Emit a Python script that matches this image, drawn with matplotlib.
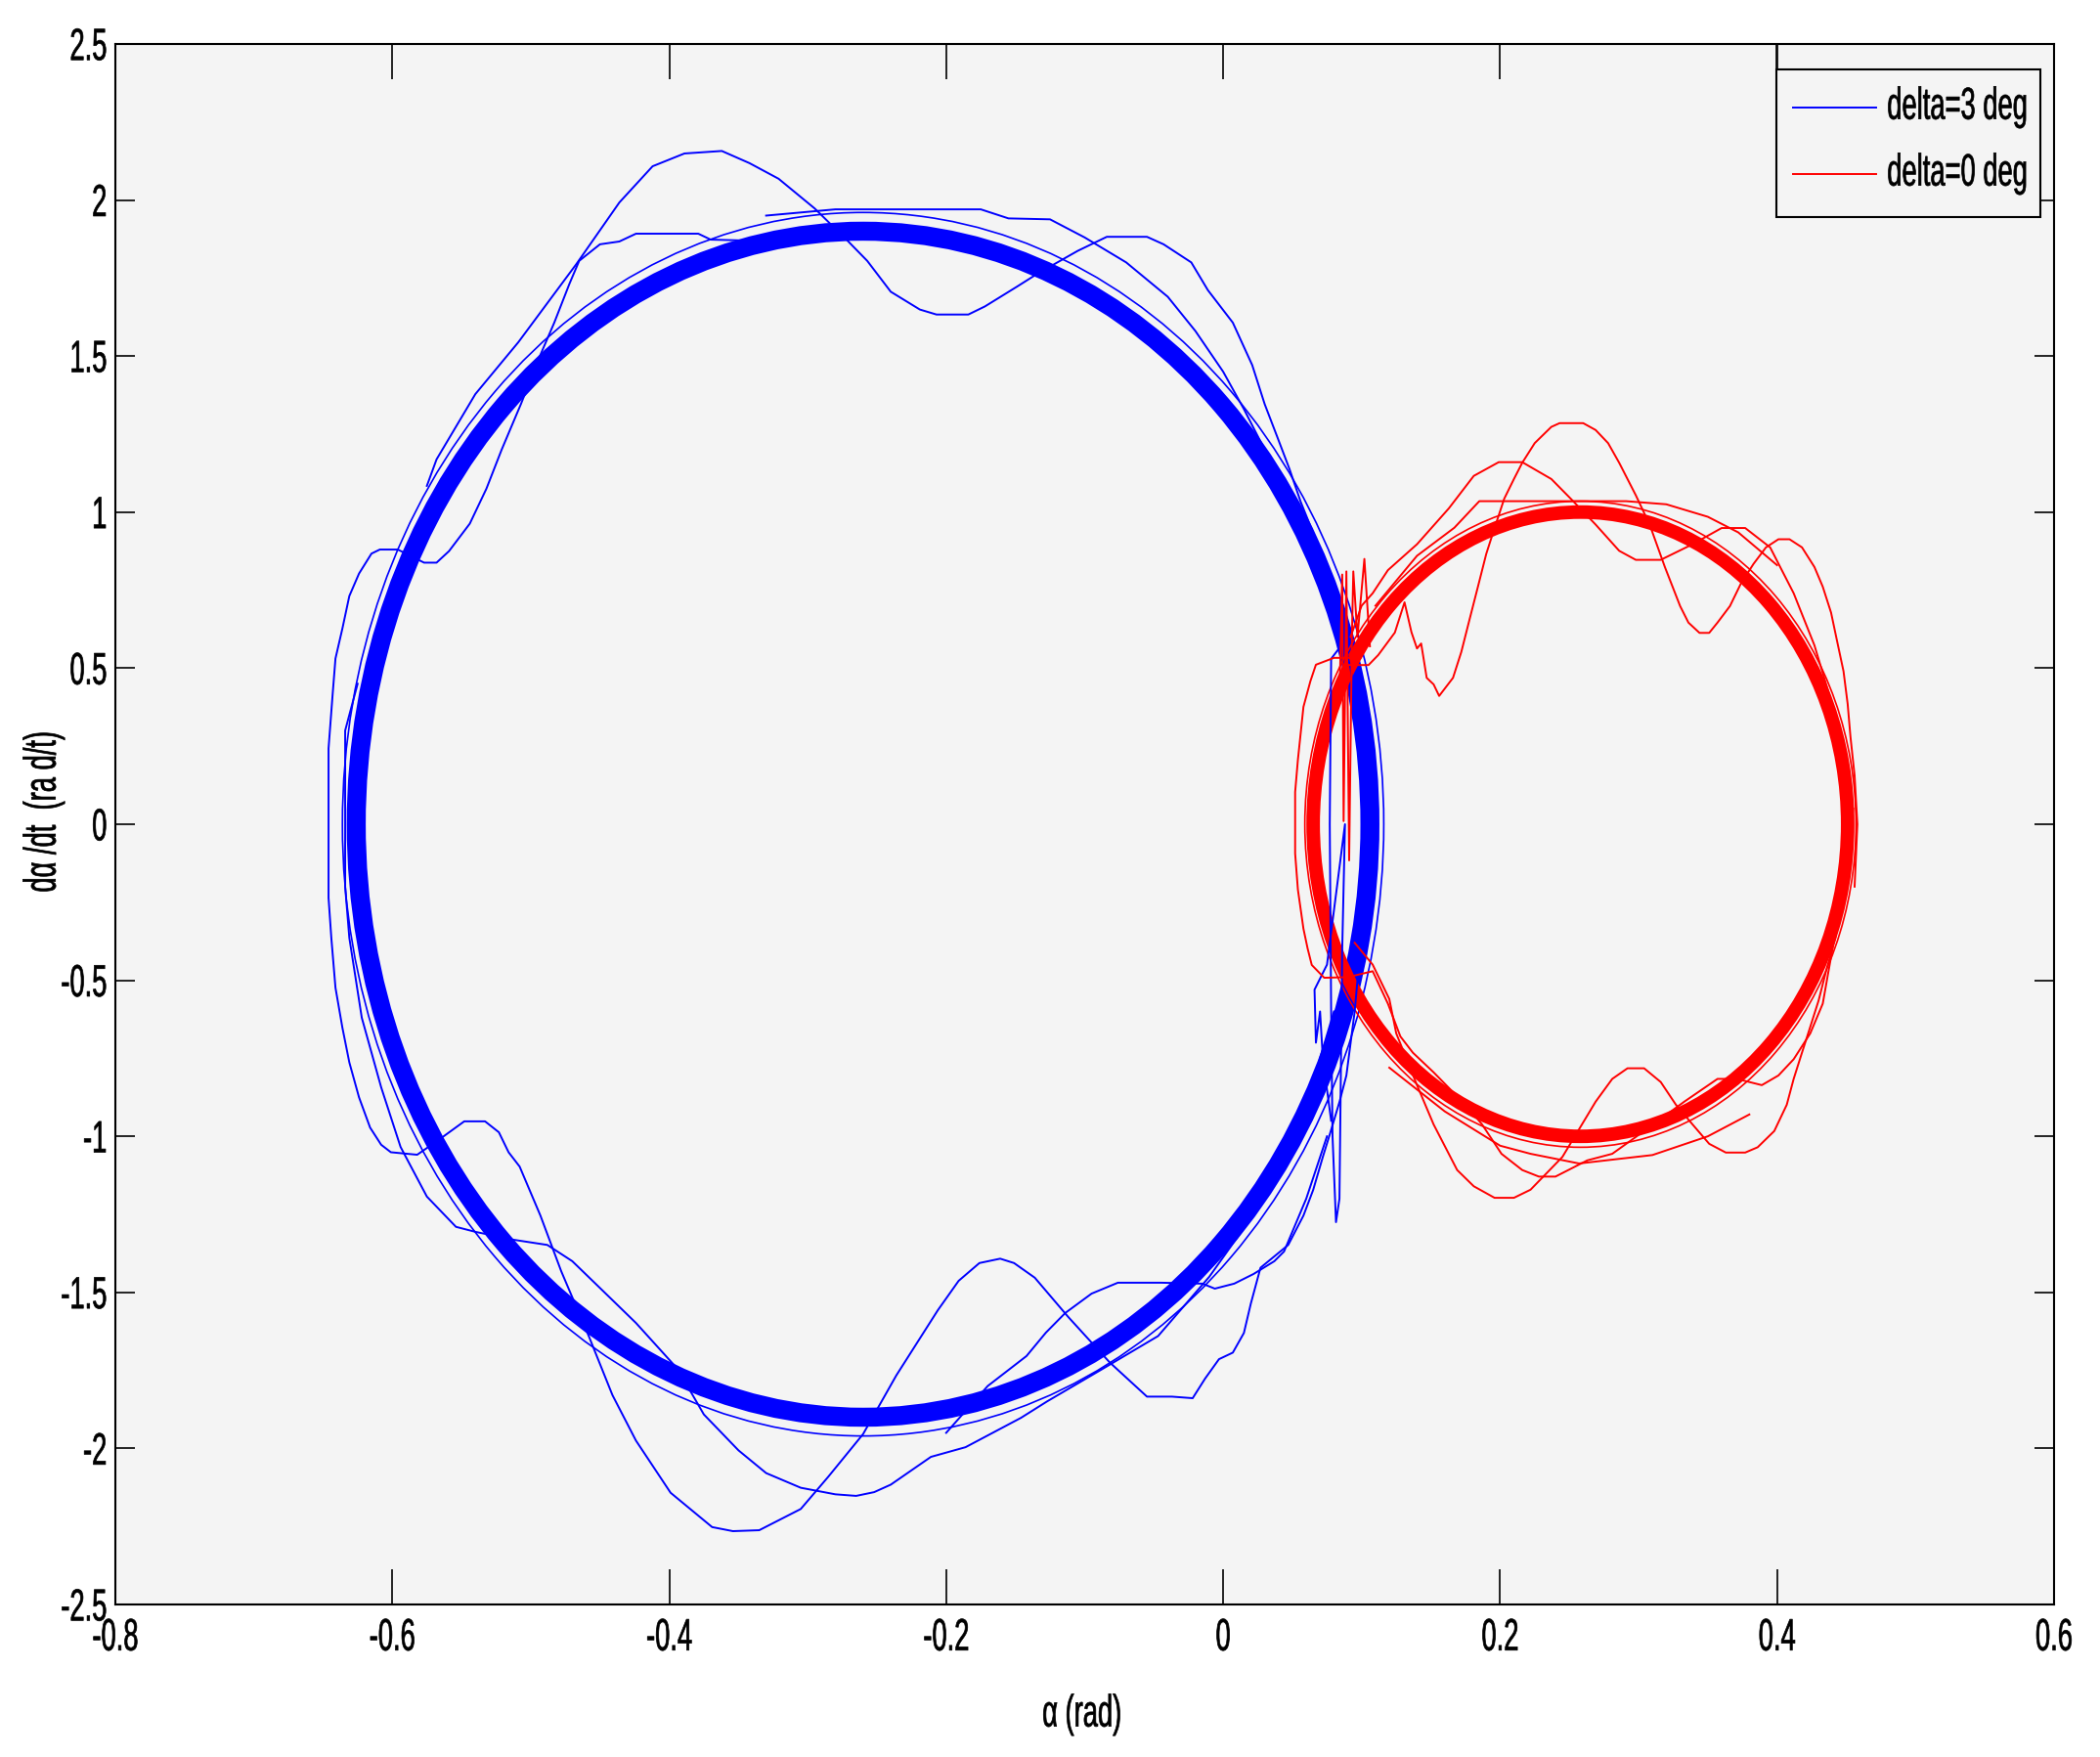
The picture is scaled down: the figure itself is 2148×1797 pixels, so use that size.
import numpy as np
import matplotlib
matplotlib.use('Agg')
import matplotlib.pyplot as plt
from matplotlib.patches import Ellipse, Rectangle
from matplotlib.patheffects import AbstractPathEffect
from matplotlib.transforms import Affine2D

plt.rcParams['font.family'] = ['Liberation Sans', 'DejaVu Sans']
plt.rcParams['axes.unicode_minus'] = False

# ---------- data (alpha [rad], dalpha/dt [rad/t]) ----------
# settled limit cycles (thick bands of many overlapping turns): centre, full width, full height
blue_cycle_center = (-0.260, 0.0)
blue_cycle_size = (0.732, 3.80)
blue_ring_size = (0.752, 3.92)
red_cycle_center = (0.258, 0.0)
red_cycle_size = (0.386, 2.00)
red_ring_size = (0.398, 2.07)

# transient excursions, delta = 3 deg
blue_top_arc = [
    [-0.575, 1.084], [-0.568, 1.169], [-0.540, 1.378], [-0.509, 1.544], [-0.467, 1.795],
    [-0.436, 1.992], [-0.412, 2.108], [-0.389, 2.149], [-0.362, 2.157], [-0.342, 2.118],
    [-0.321, 2.068], [-0.295, 1.973], [-0.272, 1.873], [-0.257, 1.805], [-0.240, 1.706],
    [-0.219, 1.649], [-0.207, 1.633], [-0.184, 1.633], [-0.172, 1.659], [-0.149, 1.722],
    [-0.134, 1.764], [-0.105, 1.837], [-0.084, 1.882], [-0.055, 1.882], [-0.043, 1.858],
    [-0.023, 1.800], [-0.011, 1.711], [0.007, 1.607], [0.021, 1.471], [0.030, 1.346],
    [0.039, 1.242], [0.048, 1.137], [0.056, 1.033], [0.068, 0.900], [0.080, 0.720],
    [0.092, 0.500], [0.100, 0.250], [0.104, 0.000],
]
blue_outer = [
    [-0.318, 1.867], [-0.370, 1.873], [-0.379, 1.892], [-0.424, 1.892], [-0.436, 1.867],
    [-0.450, 1.858], [-0.465, 1.805], [-0.472, 1.732], [-0.483, 1.607], [-0.493, 1.504],
    [-0.507, 1.347], [-0.521, 1.200], [-0.532, 1.075], [-0.544, 0.963], [-0.559, 0.875],
    [-0.568, 0.838], [-0.577, 0.838], [-0.596, 0.880], [-0.609, 0.880], [-0.615, 0.867],
    [-0.624, 0.803], [-0.631, 0.731], [-0.636, 0.627], [-0.641, 0.531], [-0.643, 0.419],
    [-0.646, 0.243], [-0.646, -0.236], [-0.644, -0.364], [-0.641, -0.524], [-0.636, -0.652],
    [-0.631, -0.763], [-0.624, -0.875], [-0.616, -0.972], [-0.608, -1.027], [-0.601, -1.051],
    [-0.582, -1.059], [-0.566, -1.010], [-0.548, -0.952], [-0.533, -0.952], [-0.523, -0.987],
    [-0.516, -1.051], [-0.508, -1.097], [-0.493, -1.254], [-0.478, -1.432], [-0.458, -1.641],
    [-0.441, -1.829], [-0.424, -1.975], [-0.399, -2.142], [-0.369, -2.252], [-0.354, -2.265],
    [-0.335, -2.262], [-0.305, -2.194], [-0.285, -2.090], [-0.260, -1.954], [-0.236, -1.766],
    [-0.206, -1.557], [-0.191, -1.463], [-0.176, -1.406], [-0.161, -1.392], [-0.151, -1.406],
    [-0.136, -1.453], [-0.112, -1.578], [-0.082, -1.724], [-0.055, -1.834], [-0.037, -1.834],
    [-0.022, -1.839], [-0.013, -1.776], [-0.003, -1.714], [0.007, -1.693], [0.015, -1.630],
    [0.020, -1.536], [0.027, -1.421], [0.047, -1.348], [0.058, -1.254], [0.065, -1.172],
    [0.072, -1.066], [0.077, -0.994], [0.084, -0.890], [0.089, -0.805], [0.095, -0.600],
    [0.100, -0.350], [0.104, 0.000],
]
blue_low_arc = [
    [-0.625, 0.450], [-0.634, 0.300], [-0.634, -0.200], [-0.631, -0.364], [-0.622, -0.620],
    [-0.608, -0.843], [-0.594, -1.034], [-0.575, -1.193], [-0.554, -1.290], [-0.540, -1.306],
    [-0.513, -1.331], [-0.488, -1.348], [-0.470, -1.400], [-0.453, -1.473], [-0.424, -1.598],
    [-0.394, -1.745], [-0.375, -1.891], [-0.350, -2.006], [-0.330, -2.079], [-0.305, -2.126],
    [-0.280, -2.147], [-0.265, -2.152], [-0.252, -2.140], [-0.240, -2.116], [-0.211, -2.027],
    [-0.186, -1.996], [-0.146, -1.902], [-0.127, -1.849], [-0.087, -1.745], [-0.047, -1.640],
    [-0.010, -1.450], [0.030, -1.200], [0.060, -0.900], [0.080, -0.600],
]
blue_shelf = [
    [-0.200, -1.950], [-0.170, -1.800], [-0.142, -1.704], [-0.128, -1.629], [-0.114, -1.566],
    [-0.095, -1.504], [-0.076, -1.469], [-0.045, -1.469], [-0.015, -1.472], [-0.006, -1.488],
    [0.008, -1.472], [0.022, -1.441], [0.037, -1.400], [0.044, -1.369], [0.060, -1.200],
    [0.075, -1.000],
]
blue_cap = [
    [-0.330, 1.950], [-0.280, 1.970], [-0.228, 1.970], [-0.175, 1.970], [-0.155, 1.941],
    [-0.125, 1.938], [-0.100, 1.880], [-0.070, 1.800], [-0.040, 1.690], [-0.020, 1.580],
    [0.000, 1.450], [0.015, 1.330], [0.030, 1.200],
]
blue_spike = [
    [0.090, 0.600], [0.078, 0.530], [0.077, 0.000], [0.078, -0.600], [0.079, -1.000],
    [0.0815, -1.275], [0.084, -1.200], [0.085, -0.800], [0.086, -0.400], [0.088, 0.000],
    [0.075, -0.450], [0.066, -0.530], [0.067, -0.700], [0.070, -0.600], [0.072, -0.750],
    [0.078, -0.950],
]

# transient excursions, delta = 0 deg
red_spike = [
    [0.084, 0.400], [0.086, 0.800], [0.087, 0.010], [0.089, 0.810], [0.091, -0.116],
    [0.093, 0.600], [0.094, 0.810], [0.097, 0.600], [0.102, 0.850], [0.106, 0.570],
]
red_high_arc = [
    [0.090, 0.510], [0.105, 0.510], [0.112, 0.542], [0.124, 0.614], [0.131, 0.711],
    [0.136, 0.615], [0.140, 0.563], [0.143, 0.579], [0.147, 0.469], [0.152, 0.448],
    [0.156, 0.411], [0.166, 0.469], [0.172, 0.552], [0.178, 0.657], [0.184, 0.761],
    [0.190, 0.866], [0.196, 0.949], [0.203, 1.043], [0.210, 1.106], [0.216, 1.158],
    [0.225, 1.221], [0.237, 1.273], [0.243, 1.285], [0.260, 1.285], [0.269, 1.263],
    [0.278, 1.221], [0.286, 1.158], [0.292, 1.106], [0.298, 1.054], [0.308, 0.960],
    [0.319, 0.824], [0.330, 0.699], [0.336, 0.646], [0.344, 0.613], [0.351, 0.613],
    [0.357, 0.646], [0.366, 0.699], [0.374, 0.772], [0.383, 0.834], [0.392, 0.887],
    [0.401, 0.913], [0.409, 0.913], [0.418, 0.887], [0.427, 0.824], [0.433, 0.761],
    [0.439, 0.678], [0.443, 0.594], [0.448, 0.490], [0.451, 0.385], [0.453, 0.281],
    [0.456, 0.156], [0.458, 0.000], [0.456, -0.200],
]
red_mid_arc = [
    [0.092, 0.600], [0.100, 0.700], [0.108, 0.740], [0.119, 0.814], [0.140, 0.897],
    [0.163, 1.012], [0.181, 1.116], [0.199, 1.160], [0.216, 1.160], [0.237, 1.106],
    [0.251, 1.043], [0.269, 0.960], [0.286, 0.876], [0.298, 0.847], [0.316, 0.847],
    [0.339, 0.897], [0.360, 0.949], [0.377, 0.949], [0.395, 0.887], [0.412, 0.740],
    [0.427, 0.573], [0.439, 0.396], [0.445, 0.239], [0.449, 0.000],
]
red_top = [
    [0.110, 0.700], [0.140, 0.860], [0.167, 0.950], [0.185, 1.035], [0.230, 1.035],
    [0.291, 1.035], [0.320, 1.025], [0.350, 0.985], [0.372, 0.935], [0.400, 0.830],
]
red_left = [
    [0.099, 0.533], [0.080, 0.533], [0.067, 0.511], [0.063, 0.458], [0.058, 0.376],
    [0.054, 0.207], [0.052, 0.103], [0.052, -0.094], [0.054, -0.210], [0.058, -0.335],
    [0.061, -0.398], [0.064, -0.451], [0.073, -0.492], [0.090, -0.490], [0.108, -0.471],
    [0.119, -0.575], [0.128, -0.680], [0.137, -0.732], [0.152, -0.795], [0.175, -0.899],
    [0.187, -0.962], [0.201, -1.056], [0.216, -1.108], [0.228, -1.129], [0.240, -1.129],
    [0.263, -1.077], [0.281, -1.056], [0.304, -0.983], [0.333, -0.889], [0.357, -0.816],
    [0.371, -0.816], [0.389, -0.836], [0.401, -0.805], [0.412, -0.753], [0.424, -0.670],
    [0.433, -0.575], [0.440, -0.400], [0.446, -0.200], [0.450, 0.000],
]
red_low_arc = [
    [0.095, -0.380], [0.108, -0.450], [0.120, -0.560], [0.125, -0.670], [0.140, -0.836],
    [0.152, -0.962], [0.169, -1.108], [0.181, -1.160], [0.196, -1.197], [0.210, -1.197],
    [0.222, -1.171], [0.245, -1.066], [0.269, -0.889], [0.281, -0.816], [0.292, -0.782],
    [0.304, -0.782], [0.316, -0.826], [0.327, -0.899], [0.339, -0.962], [0.351, -1.024],
    [0.363, -1.052], [0.377, -1.052], [0.386, -1.035], [0.398, -0.983], [0.407, -0.899],
    [0.412, -0.816], [0.418, -0.732], [0.424, -0.649], [0.430, -0.565], [0.436, -0.460],
    [0.442, -0.367], [0.450, -0.150], [0.455, 0.050],
]
red_bottom = [
    [0.120, -0.780], [0.160, -0.920], [0.200, -1.030], [0.222, -1.056], [0.257, -1.087],
    [0.310, -1.060], [0.350, -1.000], [0.380, -0.930],
]

blue_paths = [blue_top_arc, blue_outer, blue_low_arc, blue_shelf, blue_cap, blue_spike]
red_paths = [red_spike, red_high_arc, red_mid_arc, red_top, red_left, red_low_arc, red_bottom]

legend_labels = ['delta=3 deg', 'delta=0 deg']
xticks = [-0.8, -0.6, -0.4, -0.2, 0.0, 0.2, 0.4, 0.6]
xtick_labels = ['-0.8', '-0.6', '-0.4', '-0.2', '0', '0.2', '0.4', '0.6']
yticks = [-2.5, -2, -1.5, -1, -0.5, 0, 0.5, 1, 1.5, 2, 2.5]
ytick_labels = ['-2.5', '-2', '-1.5', '-1', '-0.5', '0', '0.5', '1', '1.5', '2', '2.5']


class NarrowText(AbstractPathEffect):
    """The exported MATLAB figure has tall, condensed glyphs: squeeze x, stretch y
    around an anchor given as fractions of the glyph path's own extent."""

    def __init__(self, sx=0.82, sy=1.38, anchor=(0.5, 0.5), stroke=0.5):
        super().__init__()
        self._sx, self._sy = sx, sy
        self._anchor = anchor
        self._stroke = stroke

    def draw_path(self, renderer, gc, tpath, affine, rgbFace=None):
        ext = tpath.get_extents()
        ox = ext.x0 + self._anchor[0] * ext.width
        oy = ext.y0 + self._anchor[1] * ext.height
        squeeze = Affine2D().translate(-ox, -oy).scale(self._sx, self._sy).translate(ox, oy)
        gc.set_linewidth(self._stroke)
        renderer.draw_path(gc, tpath, squeeze + affine, rgbFace)


BLUE, RED = '#0000ff', '#ff0000'
FS = 24

fig = plt.figure(figsize=(21.48, 17.97), dpi=100, facecolor='white')
ax = fig.add_axes([0.0549, 0.0868, 0.9232, 0.8882])
ax.set_facecolor('#f4f4f4')

# delta = 3 deg
ax.add_patch(Ellipse(blue_cycle_center, *blue_ring_size, fill=False, edgecolor=BLUE, lw=1.2))
ax.add_patch(Ellipse(blue_cycle_center, *blue_cycle_size, fill=False, edgecolor=BLUE, lw=14))
for p in blue_paths:
    a = np.asarray(p)
    ax.plot(a[:, 0], a[:, 1], color=BLUE, lw=1.4)

# delta = 0 deg (drawn on top)
ax.add_patch(Ellipse(red_cycle_center, *red_ring_size, fill=False, edgecolor=RED, lw=1.2))
ax.add_patch(Ellipse(red_cycle_center, *red_cycle_size, fill=False, edgecolor=RED, lw=10))
for p in red_paths:
    a = np.asarray(p)
    ax.plot(a[:, 0], a[:, 1], color=RED, lw=1.4)

ax.set_xlim(-0.8, 0.6)
ax.set_ylim(-2.5, 2.5)
ax.set_xticks(xticks)
ax.set_xticklabels(xtick_labels)
ax.set_yticks(yticks)
ax.set_yticklabels(ytick_labels)
ax.tick_params(axis='x', direction='in', length=26, width=1.2, top=True, pad=10, labelsize=FS)
ax.tick_params(axis='y', direction='in', length=14.4, width=1.2, right=True, pad=6, labelsize=FS)
for s in ax.spines.values():
    s.set_linewidth(1.5)
for lab in ax.get_xticklabels():
    lab.set_path_effects([NarrowText(anchor=(0.5, 1.0))])
for lab in ax.get_yticklabels():
    lab.set_path_effects([NarrowText(anchor=(1.0, 0.5))])

ax.set_xlabel('\u03b1 (rad)', fontsize=FS)
ax.set_ylabel('d\u03b1 /dt  (ra d/t)', fontsize=FS)
ax.xaxis.set_label_coords(0.4987, -0.061)
ax.yaxis.set_label_coords(-0.029, 0.508)
ax.xaxis.label.set_path_effects([NarrowText(anchor=(0.5, 0.5))])
ax.yaxis.label.set_path_effects([NarrowText(anchor=(0.5, 0.5))])

# legend drawn by hand so its box fits the condensed text
lx0, lx1, ly0, ly1 = 0.8566, 0.9929, 0.8893, 0.9839
ax.add_patch(Rectangle((lx0, ly0), lx1 - lx0, ly1 - ly0, transform=ax.transAxes,
                       facecolor='#f4f4f4', edgecolor='black', lw=1.5, zorder=5))
ax.plot([lx0, lx0], [ly1, 1.0], transform=ax.transAxes, color='black', lw=1.2, zorder=5)
for i, (lab, col) in enumerate(zip(legend_labels, [BLUE, RED])):
    yl = 0.9593 - i * 0.0426
    ax.plot([0.8654, 0.9082], [yl, yl], transform=ax.transAxes, color=col, lw=1.4, zorder=6)
    ax.text(0.9138, yl, lab, transform=ax.transAxes, fontsize=FS, ha='left',
            va='center', zorder=6, path_effects=[NarrowText(anchor=(0.0, 0.5))])

fig.savefig('out.png', dpi=100, facecolor='white')
